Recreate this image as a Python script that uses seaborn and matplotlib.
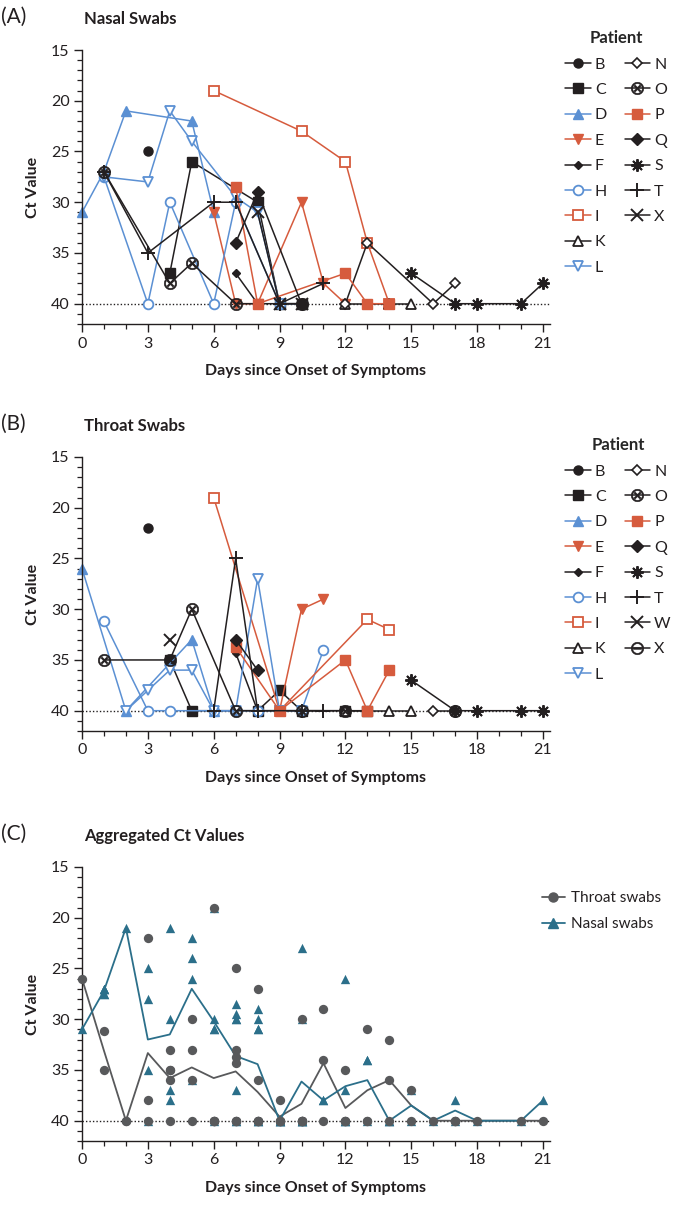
import numpy as np
import pandas as pd
import seaborn as sns
from matplotlib import pyplot as plt
from matplotlib.lines import Line2D
from matplotlib.ticker import MultipleLocator

sns.set_theme(style='ticks')
plt.rcParams['font.family'] = ['Lato', 'DejaVu Sans']

# ---- data (day since onset, Ct value) ----
nasal_day = {
    'B': [3], 'C': [4, 5, 8, 9, 10], 'D': [0, 1, 2, 5, 6],
    'E': [6, 7, 8, 10, 11, 12], 'F': [7, 8], 'H': [1, 3, 4, 6, 7, 9, 10],
    'I': [6, 10, 12, 13, 14], 'K': [12, 14, 15], 'L': [1, 3, 4, 5, 7, 8, 9],
    'N': [12, 13, 16, 17], 'O': [1, 4, 5, 7, 10], 'P': [7, 8, 12, 13, 14],
    'Q': [7, 8, 10], 'S': [15, 17, 18, 20, 21],
    'T': [1, 3, 6, 7, 9, 11], 'X': [8, 9, 10],
}
nasal_ct = {
    'B': [25], 'C': [37, 26, 30, 40, 40], 'D': [31, 27, 21, 22, 31],
    'E': [31, 40, 40, 30, 38, 40], 'F': [37, 40], 'H': [27.5, 40, 30, 40, 30, 40, 40],
    'I': [19, 23, 26, 34, 40], 'K': [40, 40, 40], 'L': [27.5, 28, 21, 24, 29.5, 31, 40],
    'N': [40, 34, 40, 38], 'O': [27, 38, 36, 40, 40], 'P': [28.5, 40, 37, 40, 40],
    'Q': [34, 29, 40], 'S': [37, 40, 40, 40, 38],
    'T': [27, 35, 30, 30, 40, 38], 'X': [31, 40, 40],
}
throat_day = {
    'B': [3], 'C': [4, 5, 8, 9, 10, 12, 13], 'D': [0, 2, 5, 6],
    'E': [9, 10, 11], 'F': [7, 8], 'H': [1, 3, 4, 6, 7, 8, 10, 11],
    'I': [6, 9, 13, 14], 'K': [12, 14, 15], 'L': [2, 3, 4, 5, 6, 7, 8, 9, 10],
    'N': [16, 17], 'O': [1, 4, 5, 7, 10, 12], 'P': [7, 9, 12, 13, 14],
    'Q': [7, 8], 'S': [15, 17, 18, 20, 21], 'T': [6, 7, 8, 10, 11],
    'W': [4], 'X': [17],
}
throat_ct = {
    'B': [22], 'C': [35, 40, 40, 38, 40, 40, 40], 'D': [26, 40, 33, 40],
    'E': [40, 30, 29], 'F': [34.3, 40], 'H': [31.2, 40, 40, 40, 40, 40, 40, 34],
    'I': [19, 40, 31, 32], 'K': [40, 40, 40], 'L': [40, 38, 36, 36, 40, 40, 27, 40, 40],
    'N': [40, 40], 'O': [35, 35, 30, 40, 40, 40], 'P': [33.7, 40, 35, 40, 36],
    'Q': [33, 36], 'S': [37, 40, 40, 40, 40], 'T': [40, 25, 40, 40, 40],
    'W': [33], 'X': [40],
}

# ---- styles ----
black = '#231f20'
blue = '#5b90d3'
red = '#d65b3d'
grey = '#58595b'
teal = '#2b6f8a'

# color, marker, filled, size, edge width
style = {
    'B': (black, 'o', True, 6.5, 1),
    'C': (black, 's', True, 6.5, 1),
    'D': (blue, '^', True, 6.5, 1),
    'E': (red, 'v', True, 6.5, 1),
    'F': (black, 'D', True, 4.5, 1),
    'H': (blue, 'o', False, 7, 1.3),
    'I': (red, 's', False, 7, 1.3),
    'K': (black, '^', False, 7, 1.3),
    'L': (blue, 'v', False, 7.5, 1.3),
    'N': (black, 'D', False, 5.5, 1.2),
    'O': (black, r'$\otimes$', True, 9, 0.4),
    'P': (red, 's', True, 6.5, 1),
    'Q': (black, 'D', True, 6, 1),
    'S': (black, (8, 2, 0), True, 9, 1.4),
    'T': (black, '+', True, 10, 1.4),
    'W': (black, 'x', True, 8, 1.4),
    'X': (black, 'x', True, 8, 1.4),
}
style_b = dict(style)
style_b['X'] = (black, r'$\ominus$', True, 9, 0.4)

fig = plt.figure(figsize=(6.73, 12.07), dpi=100)
W, H = 673.0, 1207.0
px_day = 21.95
ax_w = 21.3 * px_day / W
ax_h = 274 / H


def style_axis(ax):
    ax.set_xlim(0, 21.3)
    ax.set_ylim(42, 15)
    ax.xaxis.set_major_locator(MultipleLocator(3))
    ax.xaxis.set_minor_locator(MultipleLocator(1))
    ax.yaxis.set_major_locator(MultipleLocator(5))
    ax.yaxis.set_minor_locator(MultipleLocator(1))
    ax.tick_params(which='major', length=6, width=1, labelsize=11.5, colors=black, pad=3)
    ax.tick_params(which='minor', length=3.5, width=0.9, colors=black)
    for s in ['left', 'bottom']:
        ax.spines[s].set_linewidth(1)
        ax.spines[s].set_color(black)
    sns.despine(ax=ax)
    ax.axhline(40, ls=(0, (1, 1.5)), color=black, lw=1, zorder=0)
    ax.set_xlabel('Days since Onset of Symptoms', fontsize=11.5, fontweight='bold', labelpad=10, color=black)
    ax.set_ylabel('Ct Value', fontsize=11.5, fontweight='bold', labelpad=8, color=black)


def patient_panel(ax, days, cts, sty):
    for p in days:
        c, m, filled, ms, mew = sty[p]
        fc = c if filled else 'white'
        sns.lineplot(x=days[p], y=cts[p], ax=ax, color=c, marker=m, markersize=ms,
                     markerfacecolor=fc, markeredgecolor=c, markeredgewidth=mew,
                     linewidth=1.1, errorbar=None, label=p, clip_on=False)
    style_axis(ax)
    handles, labels = ax.get_legend_handles_labels()
    n_pad = 18 - len(handles)
    for i in range(n_pad):
        handles.append(Line2D([], [], color='none'))
        labels.append('')
    leg = ax.legend(handles, labels, ncol=2, title='Patient', frameon=False,
                    loc='upper left', bbox_to_anchor=(1.02, 1.095),
                    fontsize=11.5, handlelength=1.6, handletextpad=0.25,
                    columnspacing=1.1, labelspacing=0.7, borderaxespad=0,
                    title_fontproperties={'weight': 'bold', 'size': 12})
    for t in leg.get_texts():
        t.set_color(black)


tops = [50, 457, 867]
axes = []
for t in tops:
    axes.append(fig.add_axes([82 / W, 1 - (t + 274) / H, ax_w, ax_h]))

patient_panel(axes[0], nasal_day, nasal_ct, style)
patient_panel(axes[1], throat_day, throat_ct, style_b)

# ---- aggregated panel ----
rows = []
for p in throat_day:
    for d, v in zip(throat_day[p], throat_ct[p]):
        rows.append(('Throat swabs', d, v))
for p in nasal_day:
    for d, v in zip(nasal_day[p], nasal_ct[p]):
        rows.append(('Nasal swabs', d, v))
agg = pd.DataFrame(rows, columns=['swab', 'day', 'ct'])

ax = axes[2]
pal = {'Throat swabs': grey, 'Nasal swabs': teal}
sns.lineplot(data=agg, x='day', y='ct', hue='swab', palette=pal, estimator='mean',
             errorbar=None, linewidth=1.3, ax=ax, legend=False)
th = agg[agg['swab'] == 'Throat swabs']
na = agg[agg['swab'] == 'Nasal swabs']
sns.scatterplot(x=na['day'], y=na['ct'], color=teal, marker='^', s=45, linewidth=0,
                ax=ax, legend=False, clip_on=False, zorder=3)
sns.scatterplot(x=th['day'], y=th['ct'], color=grey, marker='o', s=45, linewidth=0,
                ax=ax, legend=False, clip_on=False, zorder=4)
style_axis(ax)
hs = [Line2D([], [], color=grey, marker='o', markersize=6.5, lw=1.3),
      Line2D([], [], color=teal, marker='^', markersize=6.5, lw=1.3)]
leg = ax.legend(hs, ['Throat swabs', 'Nasal swabs'], frameon=False, loc='upper left',
                bbox_to_anchor=(0.97, 0.935), fontsize=11, handlelength=1.5,
                handletextpad=0.4, labelspacing=0.8, borderaxespad=0)
for t in leg.get_texts():
    t.set_color(black)

# panel titles
for lab, name, t in [('(A)', 'Nasal Swabs', tops[0]), ('(B)', 'Throat Swabs', tops[1]),
                     ('(C)', 'Aggregated Ct Values', tops[2])]:
    fig.text(1 / W, 1 - (t - 33) / H, lab, fontsize=15, color=black, va='center', ha='left')
    fig.text(84 / W, 1 - (t - 31) / H, name, fontsize=12, fontweight='bold', color=black,
             va='center', ha='left')

fig.savefig('out.png', dpi=100)
